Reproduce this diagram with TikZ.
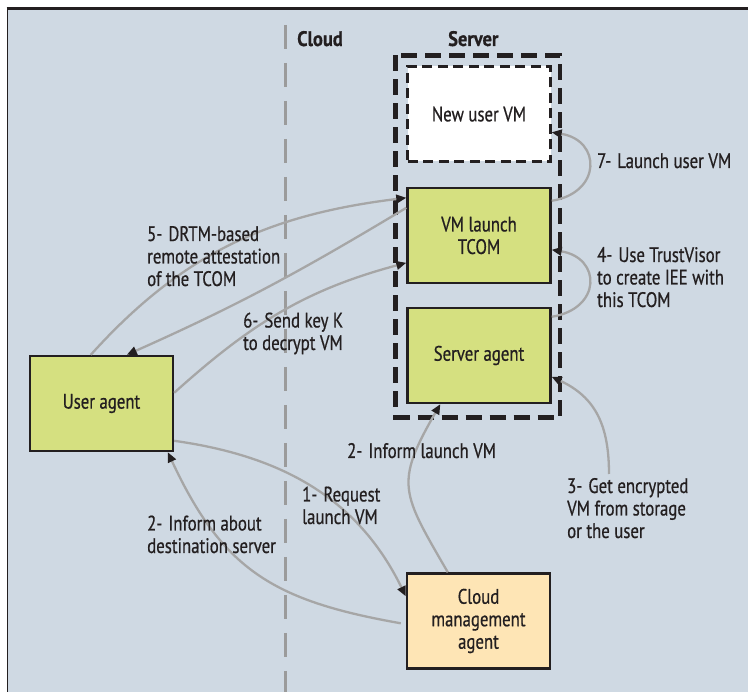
\documentclass[tikz,border=0pt]{standalone}
\usepackage{fontspec}
\setmainfont[FakeStretch=0.8,FakeBold=0.6]{PT Sans}
\newfontfamily\headfont[FakeStretch=0.88,FakeBold=0.6]{PT Sans}
\usetikzlibrary{arrows.meta}

\definecolor{panel}{RGB}{207,217,227}
\definecolor{ink}{RGB}{35,31,32}
\definecolor{boxgreen}{RGB}{213,224,128}
\definecolor{boxpeach}{RGB}{254,229,181}
\definecolor{flow}{RGB}{166,166,166}
\definecolor{zone}{RGB}{155,155,155}

% gap after the step number of a label
\newcommand\numgap{\hspace{6pt}}

\begin{document}
\begin{tikzpicture}[x=1pt,y=1pt,
  every node/.style={text=ink, font=\fontsize{21}{22.5}\selectfont},
  comp/.style={draw=ink, line width=2.4pt, fill=boxgreen,
    minimum width=143pt, minimum height=95pt, inner sep=0pt, align=center},
  newvm/.style={comp, fill=white, dash pattern=on 10pt off 5.5pt},
  mgmt/.style={comp, fill=boxpeach},
  hostframe/.style={draw=ink, line width=4.5pt, dash pattern=on 16pt off 8pt},
  zoneline/.style={draw=zone, line width=3pt, dash pattern=on 24pt off 14pt},
  flowarrow/.style={draw=flow, line width=2.3pt,
    -{Triangle[length=10pt,width=8.5pt,color=ink]}},
  note/.style={anchor=base west, align=left, inner sep=0pt},
  heading/.style={anchor=base west, inner sep=0pt, font=\headfont\fontsize{21}{22.5}\selectfont\bfseries},
]
\useasboundingbox (0,0) rectangle (748,-692);

% frame and panel
\fill[white] (0,0) rectangle (748,-692);
\fill[panel] (7.3,-8.3) rectangle (748,-692);
\draw[ink, line width=2.6pt] (6.7,-8.3) -- (748,-8.3);
\draw[ink, line width=1.2pt] (7.3,-8.3) -- (7.3,-692);

% cloud / server divider
\coordinate (zonetop) at (285,-25);
\coordinate (zonebot) at (285,-692);
\draw[zoneline] (zonetop) -- (zonebot);
\node[heading] (cloudlbl) at (297,-46) {Cloud};
\node[heading] (serverlbl) at (448,-46) {Server};

% server enclosure
\draw[hostframe] (395.5,-55.5) rectangle (560,-417.5);

% components
\node[newvm] (nvm) at (479,-114) {New user VM};
\node[comp] (tcom) at (479,-235.5) {VM launch\\TCOM};
\node[comp] (sagent) at (479,-355.5) {Server agent};
\node[comp] (user) at (101.5,-403.5) {User agent};
\node[mgmt] (cm) at (478.5,-621) {Cloud\\management\\agent};

% message flows
\coordinate (src3) at (609,-474);
\draw[flowarrow] ([xshift=62pt]user.north west) to[out=48,in=187] ([yshift=-11pt]tcom.north west);
\draw[flowarrow] ([yshift=-21pt]tcom.north west) to[out=211,in=24] ([xshift=98pt]user.north west);
\draw[flowarrow] ([yshift=-38pt]user.north east) to[out=42,in=195] ([yshift=-76pt]tcom.north west);
\draw[flowarrow] ([yshift=-14pt]tcom.north east) .. controls +(50,8) and +(50,-8) .. ([yshift=-67pt]nvm.north east);
\draw[flowarrow] ([yshift=-10pt]sagent.north east) .. controls +(50,8) and +(50,-8) .. ([yshift=-63pt]tcom.north east);
\draw[flowarrow] (src3) to[out=90,in=-25,looseness=1.1] ([yshift=-70pt]sagent.north east);
\draw[flowarrow] ([xshift=42pt]cm.north west) to[out=120,in=240,looseness=1.4] ([xshift=34pt]sagent.south west);
\draw[flowarrow] ([yshift=-86pt]user.north east) to[out=-8,in=116] ([yshift=-24pt]cm.north west);
\draw[flowarrow] ([xshift=-5pt,yshift=-51pt]cm.north west) to[out=170,in=-65,looseness=1.15] ([xshift=139pt]user.south west);

% flow labels (anchored at the baseline of their last line)
\node[note] (l5) at (147,-286) {5-\numgap DRTM-based\\remote attestation\\of the TCOM};
\node[note] (l6) at (243,-350) {6-\numgap Send key K\\to decrypt VM};
\node[note] (l7) at (597,-168) {7-\numgap Launch user VM};
\node[note] (l4) at (597,-307) {4-\numgap Use TrustVisor\\to create IEE with\\this TCOM};
\node[note] (l3) at (567,-538) {3-\numgap Get encrypted\\VM from storage\\or the user};
\node[note] (l2b) at (347,-458) {2-\numgap Inform launch VM};
\node[note] (l1) at (302,-524) {1-\numgap Request\\launch VM};
\node[note] (l2a) at (147,-553) {2-\numgap Inform about\\destination server};
\end{tikzpicture}
\end{document}
